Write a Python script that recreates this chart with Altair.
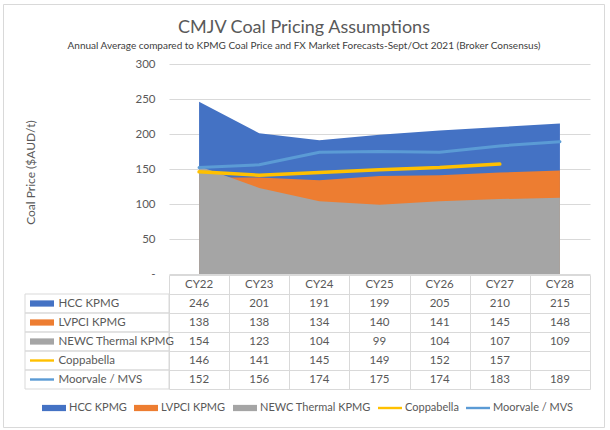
import altair as alt
import pandas as pd

cats = ["CY22", "CY23", "CY24", "CY25", "CY26", "CY27", "CY28"]
series = ["HCC KPMG", "LVPCI KPMG", "NEWC Thermal KPMG", "Coppabella", "Moorvale / MVS"]
hcc = [246, 201, 191, 199, 205, 210, 215]
lvpci = [138, 138, 134, 140, 141, 145, 148]
newc = [154, 123, 104, 99, 104, 107, 109]
copp = [146, 141, 145, 149, 152, 157, None]
moor = [152, 156, 174, 175, 174, 183, 189]
ticks_y = [0, 50, 100, 150, 200, 250, 300]
colors = ["#4472C4", "#ED7D31", "#A5A5A5", "#FFC000", "#5B9BD5"]

FONT = "Lato"
TXT = "#595959"
GRID = "#d9d9d9"

values = [hcc, lvpci, newc, copp, moor]
df = pd.DataFrame({"cat": cats, "hcc": hcc, "lvpci": lvpci, "newc": newc,
                   "copp": copp, "moor": moor})

xs = alt.X("cat:N", sort=cats, scale=alt.Scale(type="point", padding=0.5), axis=None)
yscale = alt.Scale(domain=[0, 300], nice=False)
yaxis = alt.Axis(values=ticks_y, labelOverlap=False,
                 labelExpr="datum.value == 0 ? '-' : datum.label",
                 grid=True, gridColor=GRID, domain=False, ticks=False, tickSize=0,
                 labelPadding=14, labelFontSize=11.5, labelColor=TXT, labelFont=FONT,
                 title="Coal Price ($AUD/t)", titleFont=FONT, titleFontSize=12,
                 titleFontWeight="normal", titleColor=TXT, titleX=-139, titleY=108,
                 titleAngle=270, titleAlign="center", titleBaseline="middle")


def yenc(field):
    return alt.Y(field, scale=yscale, axis=yaxis)


base = alt.Chart(df)
a_hcc = base.mark_area(color=colors[0], opacity=1).encode(x=xs, y=yenc("hcc:Q"))
a_lv = base.mark_area(color=colors[1], opacity=1).encode(x=xs, y=yenc("lvpci:Q"))
a_nw = base.mark_area(color=colors[2], opacity=1).encode(x=xs, y=yenc("newc:Q"))
l_cp = base.mark_line(color=colors[3], strokeWidth=3.5, strokeCap="round").encode(
    x=xs, y=yenc("copp:Q"))
l_mv = base.mark_line(color=colors[4], strokeWidth=3, strokeCap="round").encode(
    x=xs, y=yenc("moor:Q"))
border = alt.Chart(alt.Data(values=[{"b": 1}])).mark_rect(
    fill="transparent", stroke=GRID, strokeWidth=1).encode(
    x=alt.value(-165.5), x2=alt.value(435.5), y=alt.value(-59.5), y2=alt.value(363.5))

top = alt.layer(a_hcc, a_lv, a_nw, l_cp, l_mv, border).properties(width=421, height=210)

# table
rows = [" "] + series
trs = []
for c in cats:
    trs.append({"row": " ", "cat": c, "text": c})
for s, vals in zip(series, values):
    for c, v in zip(cats, vals):
        trs.append({"row": s, "cat": c, "text": "" if v is None else str(v)})
tdf = pd.DataFrame(trs)

tx = alt.X("cat:N", sort=cats, scale=alt.Scale(type="band", paddingInner=0, paddingOuter=0),
           axis=alt.Axis(grid=True, gridColor=GRID, tickBand="extent", labels=False,
                         ticks=False, domain=False, title=None))
ty = alt.Y("row:N", sort=rows, scale=alt.Scale(type="band", paddingInner=0, paddingOuter=0),
           axis=alt.Axis(grid=True, gridColor=GRID, tickBand="extent", labels=True,
                         labelAlign="left", labelPadding=111, ticks=False, tickSize=0,
                         domain=False, title=None, labelFont=FONT, labelFontSize=11.5,
                         labelColor=TXT))

ttext = alt.Chart(tdf).mark_text(font=FONT, fontSize=11.5, color=TXT).encode(
    x=tx, y=ty, text="text:N")

sdf = pd.DataFrame({"row": series, "series": series})
lab_box = alt.Chart(sdf).mark_rect(fill="transparent", stroke=GRID, strokeWidth=1).encode(
    x=alt.value(-144), x2=alt.value(0), y=alt.Y("row:N", sort=rows))

leg = alt.Legend(orient="none", legendX=-127, legendY=332,
                 direction="horizontal", columns=5, title=None,
                 symbolSize=576, symbolStrokeWidth=0,
                 labelFont=FONT, labelFontSize=11, labelColor=TXT,
                 labelOffset=3, columnPadding=7)
paths = ["M-1,-0.26L1,-0.26L1,0.26L-1,0.26Z"] * 3 + ["M-1,-0.1L1,-0.1L1,0.1L-1,0.1Z"] * 2
swatch = alt.Chart(sdf).mark_point(filled=True, opacity=1, strokeWidth=0).encode(
    x=alt.value(-127),
    y=alt.Y("row:N", sort=rows),
    size=alt.value(576),
    color=alt.Color("series:N", sort=series,
                    scale=alt.Scale(domain=series, range=colors), legend=leg),
    shape=alt.Shape("series:N", sort=series,
                    scale=alt.Scale(domain=series, range=paths), legend=leg),
)

table = alt.layer(lab_box, ttext, swatch).properties(width=421, height=114)

chart = alt.vconcat(top, table, spacing=1, bounds="flush").properties(
    title=alt.Title(text="CMJV Coal Pricing Assumptions",
                    subtitle="Annual Average compared to KPMG Coal Price and FX Market Forecasts-Sept/Oct 2021 (Broker Consensus)",
                    anchor="middle", frame="bounds", offset=-47, font=FONT, fontSize=18,
                    fontWeight="normal", color=TXT, subtitleFont=FONT, subtitleFontSize=10,
                    subtitleColor="#404040", subtitlePadding=4),
    padding={"left": 3, "top": 4, "right": 5, "bottom": 2},
    background="white",
).configure_view(strokeWidth=0)

chart.save("out.html", embed_options={"renderer": "svg", "actions": False})
